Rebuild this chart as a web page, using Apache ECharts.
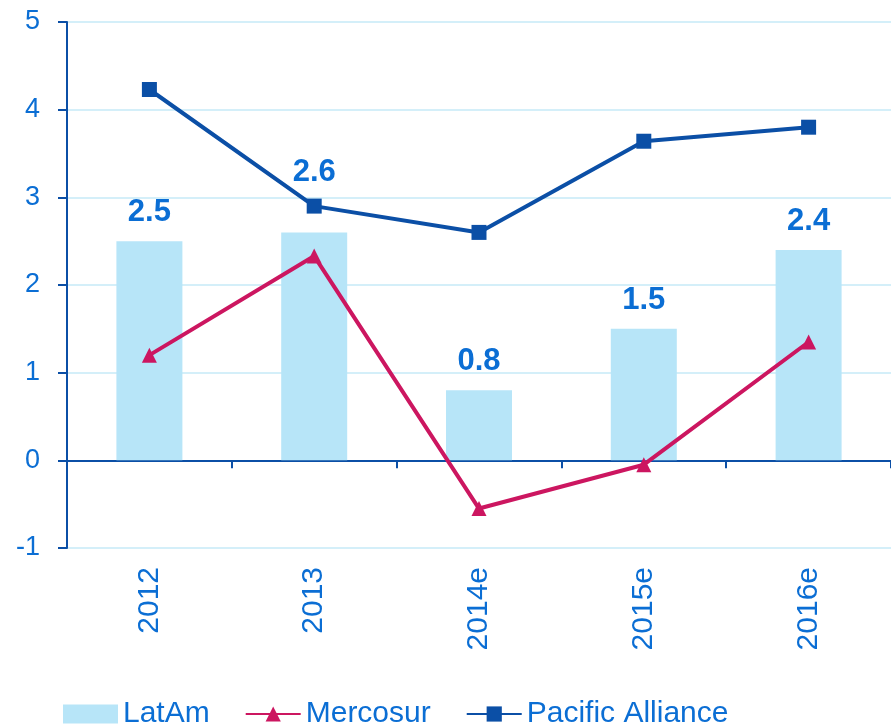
<!DOCTYPE html>
<html>
<head>
<meta charset="utf-8">
<script src="https://cdn.jsdelivr.net/npm/echarts@6/dist/echarts.min.js"></script>
<style>
  html, body { margin: 0; padding: 0; background: #fff; }
  #chart { width: 891px; height: 724px; }
</style>
</head>
<body>
<div id="chart"></div>
<script>
// categories + series
var years = ['2012', '2013', '2014e', '2015e', '2016e']
var latam = [2.5, 2.6, 0.8, 1.5, 2.4]
var mercosur = [1.2, 2.33, -0.55, -0.05, 1.35]
var pacific = [4.23, 2.9, 2.6, 3.64, 3.8]

var textBlue = '#0b6ed4'
var axisBlue = '#0b4fa6'
var font = 'Liberation Sans, Arial, sans-serif'

var myChart = echarts.init(document.getElementById('chart'))

// the 2013 label sits above the Pacific Alliance line
var latamData = latam.map(function (v, i) {
    if (i === 1) return { value: v, label: { distance: 44 } }
    return v
})

var option = {
    animation: false,
    textStyle: { fontFamily: font },
    grid: {
        left: 67,
        right: -6,
        top: 22,
        bottom: 176
    },
    xAxis: [
        {
            // zero line with ticks, no labels
            type: 'category',
            data: years,
            axisLine: { onZero: true, lineStyle: { color: axisBlue, width: 2 } },
            axisTick: { show: true, length: 8, lineStyle: { color: axisBlue, width: 2 } },
            axisLabel: { show: false },
            splitLine: { show: false }
        },
        {
            // labels at the bottom of the plot
            type: 'category',
            data: years,
            position: 'bottom',
            axisLine: { show: false, onZero: false },
            axisTick: { show: false },
            axisLabel: {
                rotate: 90,
                margin: 19,
                color: textBlue,
                fontSize: 30,
                fontFamily: font
            },
            splitLine: { show: false }
        }
    ],
    yAxis: {
        type: 'value',
        min: -1,
        max: 5,
        interval: 1,
        axisLine: { show: true, lineStyle: { color: axisBlue, width: 2 } },
        axisTick: { show: true, length: 9, lineStyle: { color: axisBlue, width: 2 } },
        axisLabel: {
            color: textBlue,
            fontSize: 27,
            margin: 27,
            fontFamily: font
        },
        splitLine: { show: true, lineStyle: { color: '#d4eff9', width: 2 } }
    },
    legend: {
        top: 694,
        left: 58,
        itemWidth: 55,
        itemHeight: 19,
        itemGap: 35,
        textStyle: {
            color: textBlue,
            fontSize: 30,
            fontFamily: font
        },
        data: [
            { name: 'LatAm', icon: 'rect' },
            'Mercosur',
            'Pacific Alliance'
        ]
    },
    series: [
        {
            name: 'LatAm',
            type: 'bar',
            data: latamData,
            barWidth: 66,
            itemStyle: { color: '#b7e5f8' },
            label: {
                show: true,
                position: 'top',
                distance: 13,
                color: textBlue,
                fontSize: 31,
                fontWeight: 'bold',
                fontFamily: font
            }
        },
        {
            name: 'Mercosur',
            type: 'line',
            data: mercosur,
            symbol: 'triangle',
            symbolSize: 15,
            lineStyle: { color: '#cc1660', width: 4 },
            itemStyle: { color: '#cc1660' },
            z: 3
        },
        {
            name: 'Pacific Alliance',
            type: 'line',
            data: pacific,
            symbol: 'rect',
            symbolSize: 15,
            lineStyle: { color: axisBlue, width: 4 },
            itemStyle: { color: axisBlue },
            z: 4
        }
    ]
}

myChart.setOption(option)
</script>
</body>
</html>
